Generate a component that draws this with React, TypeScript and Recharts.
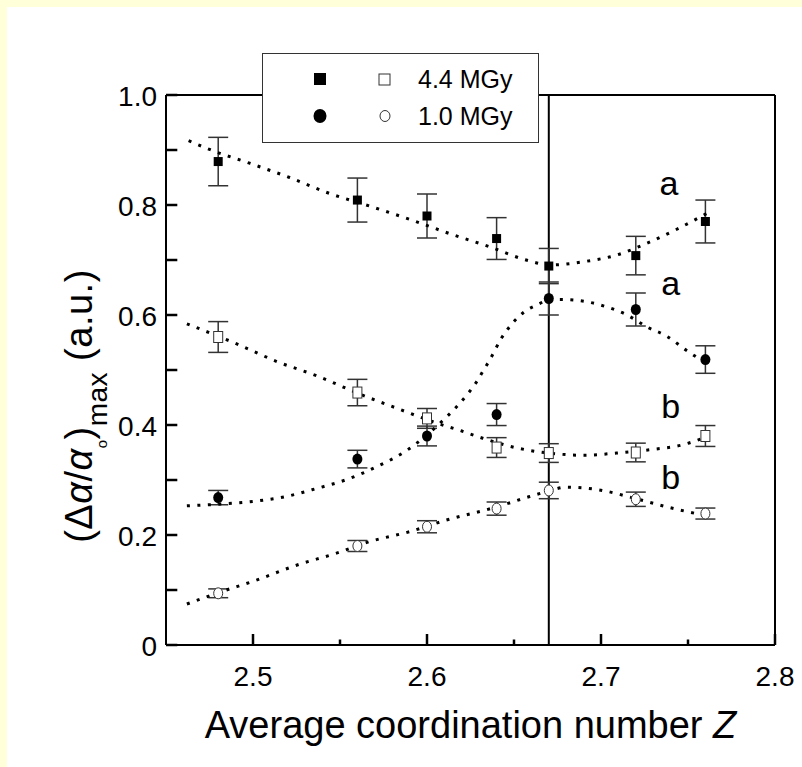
import { ComposedChart, Scatter, Line, XAxis, YAxis, ErrorBar, ReferenceLine, Legend } from 'recharts';

// measured coordination numbers
const zValues = [2.48, 2.56, 2.6, 2.64, 2.67, 2.72, 2.76];

// 4.4 MGy, curve a (filled squares)
const highDoseA = [0.879, 0.809, 0.78, 0.739, 0.689, 0.708, 0.77];
const highDoseAErr = [0.044, 0.04, 0.04, 0.038, 0.032, 0.035, 0.039];
// 1.0 MGy, curve a (filled circles)
const lowDoseA = [0.268, 0.338, 0.38, 0.419, 0.63, 0.61, 0.519];
const lowDoseAErr = [0.013, 0.016, 0.018, 0.02, 0.03, 0.03, 0.025];
// 4.4 MGy, curve b (open squares)
const highDoseB = [0.56, 0.459, 0.412, 0.359, 0.349, 0.35, 0.38];
const highDoseBErr = [0.028, 0.024, 0.018, 0.018, 0.017, 0.017, 0.019];
// 1.0 MGy, curve b (open circles)
const lowDoseB = [0.094, 0.18, 0.215, 0.248, 0.281, 0.265, 0.239];
const lowDoseBErr = [0.008, 0.01, 0.011, 0.012, 0.015, 0.013, 0.01];

// dotted guide curves
const fitHighAX = [2.463, 2.475, 2.498, 2.521, 2.544, 2.567, 2.59, 2.613, 2.636, 2.657, 2.671, 2.69, 2.709, 2.726, 2.743, 2.761];
const fitHighAY = [0.917, 0.901, 0.876, 0.85, 0.821, 0.798, 0.774, 0.748, 0.724, 0.7, 0.691, 0.697, 0.709, 0.73, 0.755, 0.785];
const fitLowAX = [2.462, 2.48, 2.5, 2.519, 2.537, 2.554, 2.571, 2.588, 2.6, 2.611, 2.617, 2.623, 2.628, 2.632, 2.636, 2.643, 2.65, 2.656, 2.663, 2.67, 2.678, 2.692, 2.703, 2.715, 2.726, 2.738, 2.749, 2.758];
const fitLowAY = [0.253, 0.256, 0.261, 0.27, 0.285, 0.301, 0.324, 0.353, 0.382, 0.414, 0.433, 0.455, 0.476, 0.497, 0.518, 0.559, 0.588, 0.606, 0.618, 0.627, 0.628, 0.624, 0.615, 0.6, 0.579, 0.561, 0.536, 0.517];
const fitHighBX = [2.462, 2.491, 2.514, 2.537, 2.56, 2.583, 2.606, 2.62, 2.632, 2.652, 2.67, 2.69, 2.709, 2.728, 2.747, 2.761];
const fitHighBY = [0.584, 0.547, 0.515, 0.489, 0.458, 0.43, 0.403, 0.389, 0.376, 0.358, 0.349, 0.345, 0.349, 0.355, 0.364, 0.379];
const fitLowBX = [2.462, 2.48, 2.502, 2.525, 2.548, 2.567, 2.59, 2.611, 2.64, 2.659, 2.67, 2.68, 2.699, 2.719, 2.738, 2.759];
const fitLowBY = [0.0745, 0.095, 0.118, 0.145, 0.167, 0.188, 0.206, 0.227, 0.251, 0.27, 0.28, 0.287, 0.282, 0.267, 0.251, 0.236];

// curve labels
const noteText = ['a', 'a', 'b', 'b'];
const noteX = [2.739, 2.74, 2.74, 2.74];
const noteY = [0.818, 0.636, 0.412, 0.283];

const xTicks = [2.5, 2.55, 2.6, 2.65, 2.7, 2.75, 2.8];
const yTicks = [0, 0.1, 0.2, 0.3, 0.4, 0.5, 0.6, 0.7, 0.8, 0.9, 1.0];

const X_MIN = 2.45;
const X_MAX = 2.8;

// inward tick lengths in data units (~11px major, ~5px minor)
const X_TICK_MAJOR = 0.02;
const X_TICK_MINOR = 0.01;
const Y_TICK = 0.0065;

const FONT = '"Liberation Sans", Arial, Helvetica, sans-serif';

const toPoints = (xs: number[], ys: number[], es?: number[]) =>
  xs.map((x, i) => ({ x, y: ys[i], e: es ? es[i] : 0 }));

const isMajorX = (v: number) => Math.abs(v * 10 - Math.round(v * 10)) < 1e-6;
const isMajorY = (v: number) => Math.round(v * 10) % 2 === 0;

// labels only; the inward tick marks are drawn as short reference segments
const XTick = ({ x, y, payload }: any) => {
  const v = payload.value;
  if (!isMajorX(v)) return <g />;
  return (
    <text x={x} y={y + 41} textAnchor="middle" fontSize={28} fontFamily={FONT} fill="#000">
      {v.toFixed(1)}
    </text>
  );
};

const YTick = ({ x, y, payload }: any) => {
  const v = payload.value;
  if (!isMajorY(v)) return <g />;
  return (
    <text x={x - 9} y={y + 11} textAnchor="end" fontSize={28} fontFamily={FONT} fill="#000">
      {v === 0 ? '0' : v.toFixed(1)}
    </text>
  );
};

const FilledSquare = ({ cx, cy }: any) => <rect x={cx - 4.5} y={cy - 4.5} width={9} height={9} fill="#000" />;
const OpenSquare = ({ cx, cy }: any) => (
  <rect x={cx - 4.5} y={cy - 5.5} width={9} height={11} fill="#fff" stroke="#333" strokeWidth={1} />
);
const FilledCircle = ({ cx, cy }: any) => <ellipse cx={cx} cy={cy} rx={5} ry={5.5} fill="#000" />;
const OpenCircle = ({ cx, cy }: any) => (
  <ellipse cx={cx} cy={cy} rx={4.5} ry={5.5} fill="#fff" stroke="#333" strokeWidth={1} />
);

const NoteShape = ({ cx, cy, payload }: any) => (
  <text x={cx} y={cy} textAnchor="middle" fontSize={34} fontFamily={FONT} fill="#000">
    {payload.t}
  </text>
);

const LegendBox = () => (
  <div style={{ width: 277, height: 90, background: '#fff', border: '1px solid #333', boxSizing: 'border-box' }}>
    <svg width={275} height={88} style={{ display: 'block' }}>
      <rect x={51} y={19} width={12} height={12} fill="#000" />
      <rect x={116} y={20} width={11} height={11} fill="#fff" stroke="#333" />
      <text x={155} y={34} fontSize={25} fontFamily={FONT}>4.4 MGy</text>
      <ellipse cx={57} cy={62} rx={6.5} ry={7} fill="#000" />
      <ellipse cx={122} cy={62} rx={5} ry={5.5} fill="#fff" stroke="#333" />
      <text x={155} y={71} fontSize={25} fontFamily={FONT}>1.0 MGy</text>
    </svg>
  </div>
);

const XTitle = ({ viewBox }: any) => (
  <text x={viewBox.x + viewBox.width / 2} y={738} textAnchor="middle" fontSize={38} fontFamily={FONT} fill="#000">
    Average coordination number <tspan fontStyle="italic">Z</tspan>
  </text>
);

const YTitle = () => (
  <text x={92} y={406} transform="rotate(-90, 92, 406)" textAnchor="middle" fontSize={38} fontFamily={FONT} fill="#000" letterSpacing={0.5}>
    (Δ<tspan fontStyle="italic">α</tspan>/<tspan fontStyle="italic">α</tspan>
    <tspan fontSize={15} dy={15}>o</tspan>
    <tspan dy={-15}>)</tspan>
    <tspan fontSize={28} dy={15}>max</tspan>
    <tspan dy={-15}> (a.u.)</tspan>
  </text>
);

const axisStroke = { stroke: '#000', strokeWidth: 2 };

export default function App() {
  const hA = toPoints(zValues, highDoseA, highDoseAErr);
  const lA = toPoints(zValues, lowDoseA, lowDoseAErr);
  const hB = toPoints(zValues, highDoseB, highDoseBErr);
  const lB = toPoints(zValues, lowDoseB, lowDoseBErr);
  const notes = noteText.map((t, i) => ({ x: noteX[i], y: noteY[i], t }));
  const fits = [
    toPoints(fitHighAX, fitHighAY),
    toPoints(fitLowAX, fitLowAY),
    toPoints(fitHighBX, fitHighBY),
    toPoints(fitLowBX, fitLowBY),
  ];

  return (
    <div style={{ position: 'absolute', left: 0, top: 0, width: 802, height: 767, background: '#FFFFD9' }}>
      <div style={{ position: 'absolute', left: 7, top: 7, right: 0, bottom: 0, background: '#fff' }} />
      <div style={{ position: 'absolute', left: 0, top: 0 }}>
        <ComposedChart width={802} height={767} margin={{ top: 95, right: 27, bottom: 62, left: 106 }}>
          <XAxis
            type="number"
            dataKey="x"
            domain={[X_MIN, X_MAX]}
            allowDataOverflow
            ticks={xTicks}
            interval={0}
            tickSize={0}
            tickMargin={0}
            tickLine={false}
            tick={<XTick />}
            axisLine={axisStroke}
            height={60}
            label={(props: any) => <XTitle {...props} />}
          />
          <YAxis
            type="number"
            domain={[0, 1]}
            allowDataOverflow
            ticks={yTicks}
            interval={0}
            tickSize={0}
            tickMargin={0}
            tickLine={false}
            tick={<YTick />}
            axisLine={axisStroke}
            width={60}
            label={() => <YTitle />}
          />
          {/* inward tick marks */}
          {xTicks.map((v) => (
            <ReferenceLine
              key={`xt-${v}`}
              segment={[{ x: v, y: 0 }, { x: v, y: isMajorX(v) ? X_TICK_MAJOR : X_TICK_MINOR }]}
              stroke="#000"
              strokeWidth={2.5}
              ifOverflow="visible"
            />
          ))}
          {yTicks.map((v) => (
            <ReferenceLine
              key={`yt-${v}`}
              segment={[{ x: X_MIN, y: v }, { x: X_MIN + Y_TICK, y: v }]}
              stroke="#000"
              strokeWidth={2.5}
              ifOverflow="visible"
            />
          ))}
          <ReferenceLine y={1} stroke="#000" strokeWidth={2} />
          <ReferenceLine x={X_MAX} stroke="#000" strokeWidth={2} />
          <ReferenceLine x={2.67} stroke="#000" strokeWidth={2} />
          <Legend
            layout="horizontal"
            verticalAlign="middle"
            align="center"
            content={() => <LegendBox />}
            wrapperStyle={{ position: 'absolute', left: 262, top: 53, width: 277, height: 90 }}
          />
          <Scatter data={hA} dataKey="y" shape={<FilledSquare />} isAnimationActive={false}>
            <ErrorBar dataKey="e" direction="y" width={10} stroke="#333" strokeWidth={1.5} />
          </Scatter>
          <Scatter data={lA} dataKey="y" shape={<FilledCircle />} isAnimationActive={false}>
            <ErrorBar dataKey="e" direction="y" width={10} stroke="#333" strokeWidth={1.5} />
          </Scatter>
          <Scatter data={hB} dataKey="y" shape={<OpenSquare />} isAnimationActive={false}>
            <ErrorBar dataKey="e" direction="y" width={10} stroke="#333" strokeWidth={1.5} />
          </Scatter>
          <Scatter data={lB} dataKey="y" shape={<OpenCircle />} isAnimationActive={false}>
            <ErrorBar dataKey="e" direction="y" width={10} stroke="#333" strokeWidth={1.5} />
          </Scatter>
          {fits.map((pts, i) => (
            <Line
              key={`fit-${i}`}
              data={pts}
              dataKey="y"
              type="monotone"
              stroke="#000"
              strokeWidth={3}
              strokeDasharray="3 7.5"
              dot={false}
              activeDot={false}
              isAnimationActive={false}
            />
          ))}
          <Scatter data={notes} dataKey="y" shape={<NoteShape />} isAnimationActive={false} />
        </ComposedChart>
      </div>
    </div>
  );
}
